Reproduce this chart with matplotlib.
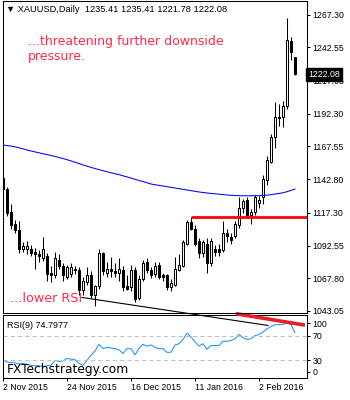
# -*- coding: utf-8 -*-
'''
XAUUSD daily chart with RSI(9) panel
'''
import numpy as np
from matplotlib import pyplot as plt

#%%
'''
                                [Data]
'''
dates_lbl = ['2 Nov 2015', '24 Nov 2015', '16 Dec 2015', '11 Jan 2016', '2 Feb 2016']
dates_pos = [0, 16, 32, 48, 64]

opens = [1144, 1135, 1118, 1109, 1104, 1090, 1090, 1090, 1088, 1086,
         1083, 1085, 1072, 1070, 1082, 1077, 1069, 1071, 1075, 1074,
         1059, 1065, 1070, 1055, 1062, 1087, 1072, 1075, 1073, 1072,
         1074, 1062, 1061, 1074, 1053, 1067, 1080, 1074, 1071, 1078,
         1070, 1070, 1061, 1063, 1074, 1077, 1094, 1110, 1105, 1096,
         1087, 1094, 1079, 1090, 1090, 1089, 1102, 1099, 1100, 1108,
         1121, 1127, 1116, 1118, 1125, 1129, 1142, 1156, 1175, 1190,
         1190, 1198, 1247, 1235.41]
highs = [1146, 1137, 1124, 1112, 1111, 1095, 1096, 1093, 1091, 1089,
         1099, 1087, 1077, 1088, 1086, 1079, 1078, 1079, 1077, 1076,
         1069, 1076, 1073, 1063, 1090, 1088, 1080, 1084, 1079, 1083,
         1077, 1070, 1078, 1076, 1070, 1082, 1083, 1076, 1080, 1080,
         1072, 1071, 1067, 1084, 1086, 1097, 1112, 1114.4, 1108, 1098,
         1097, 1098, 1098, 1093, 1094, 1111, 1105, 1102, 1111, 1129,
         1128, 1129, 1120, 1131, 1130, 1146, 1160, 1177, 1201, 1200,
         1202, 1265, 1250, 1235.41]
lows = [1133, 1115, 1105, 1102, 1087, 1088, 1086, 1085, 1075, 1080,
        1081, 1066, 1065, 1068, 1075, 1066, 1067, 1069, 1071, 1055,
        1055, 1063, 1053, 1047, 1060, 1070, 1069, 1069, 1069, 1066,
        1058, 1059, 1058, 1050, 1051, 1066, 1072, 1068, 1069, 1067,
        1066, 1059, 1058, 1062, 1073, 1076, 1093, 1104, 1092, 1083,
        1084, 1072, 1077, 1085, 1085, 1088, 1095, 1094, 1098, 1106,
        1117, 1114, 1109, 1116, 1121, 1124, 1138, 1155, 1166, 1183,
        1182, 1196, 1233, 1221.78]
closes = [1135, 1117, 1108, 1104, 1090, 1092, 1092, 1087, 1086, 1085,
          1090, 1071, 1070, 1083, 1077, 1070, 1076, 1076, 1074, 1059,
          1066, 1070, 1055, 1062, 1087, 1073, 1075, 1073, 1072, 1075,
          1061, 1060, 1074, 1052, 1067, 1079, 1074, 1070, 1077, 1069,
          1069, 1061, 1064, 1075, 1078, 1095, 1110, 1105, 1094, 1087,
          1095, 1079, 1096, 1088, 1088, 1102, 1100, 1097, 1109, 1121,
          1126, 1116, 1118, 1129, 1127, 1143, 1157, 1175, 1190, 1189,
          1198, 1248, 1239, 1222.08]

ma_vals = [1168.6, 1168.2, 1167.8, 1167.2, 1166.5, 1165.7, 1164.8, 1164.1, 1163.4, 1162.7,
           1162.0, 1161.4, 1160.7, 1160.0, 1159.2, 1158.4, 1157.5, 1156.6, 1155.6, 1154.6,
           1153.5, 1152.6, 1151.7, 1150.8, 1150.0, 1149.2, 1148.4, 1147.6, 1146.9, 1146.2,
           1145.3, 1144.5, 1143.6, 1142.7, 1141.8, 1141.0, 1140.1, 1139.1, 1138.6, 1138.1,
           1137.6, 1137.1, 1136.6, 1136.1, 1135.6, 1135.1, 1134.6, 1134.1, 1133.6, 1133.1,
           1132.7, 1132.3, 1132.0, 1131.7, 1131.4, 1131.1, 1130.8, 1130.6, 1130.4, 1130.3,
           1130.2, 1130.2, 1130.2, 1130.3, 1130.3, 1130.4, 1130.7, 1131.1, 1131.5, 1132.0,
           1132.5, 1133.3, 1134.3, 1135.3]

rsi_vals = [31, 27, 26, 26, 24, 25, 23, 22, 21, 21,
            20, 21, 22, 30, 28, 29, 33, 32, 31, 25,
            22, 30, 38, 45, 56, 49, 51, 50, 49, 47,
            41, 49, 49, 39, 49, 56, 53, 55, 51, 49,
            49, 43, 43, 55, 57, 64, 74, 68, 60, 53,
            57, 48, 54, 54, 54, 61, 61, 62, 65, 72,
            67, 64, 65, 70, 72, 76, 81, 85, 88, 88,
            88, 92, 88, 74.7977]

price_ticks = [1267.30, 1242.55, 1217.05, 1192.30, 1167.55, 1142.80, 1117.30, 1092.55, 1067.80, 1043.05]
rsi_tick_pos = [90, 70, 30, 11.5]
rsi_tick_lbl = ['100', '70', '30', '0']

resist_level = 1114.4
resist_start = 47
# trend lines (x = bar index)
price_trend_x = [19.75, 66.25]
price_trend_y = [1053.3, 1032.1]
rsi_trend_x = [58.25, 75.5]
rsi_trend_y = [105.8, 87.2]

#%%
'''
                                [Plot]
'''
W, H = 350, 400
fig = plt.figure(figsize=(W / 100, H / 100), dpi=100)
fig.patch.set_facecolor('white')

ax = fig.add_axes([2.5 / W, (H - 313.3) / H, (307 - 2.5) / W, (313.3 - 1) / H])
rsi = fig.add_axes([2.5 / W, (H - 377.7) / H, (307 - 2.5) / W, (377.7 - 315.3) / H])
for a in (ax, rsi):
    a.set_facecolor('none')
    for s in a.spines.values():
        s.set_linewidth(0.75)
    a.set_xlim(-0.125, 76)
ax.set_zorder(2)
rsi.set_zorder(1)

idx = np.arange(len(opens))
o = np.array(opens); c = np.array(closes)
hi = np.array(highs); lo = np.array(lows)
up = c >= o

# candles
ax.vlines(idx, lo, hi, color='black', lw=0.75, zorder=2)
bot = np.minimum(o, c)
hgt = np.maximum(np.abs(c - o), 0.3)
ax.bar(idx[up], hgt[up], bottom=bot[up], width=0.7, color='white',
       edgecolor='black', lw=0.75, zorder=3)
ax.bar(idx[~up], hgt[~up], bottom=bot[~up], width=0.7, color='black',
       edgecolor='black', lw=0.75, zorder=3)

ax.plot(idx, ma_vals, color='#0000FF', lw=0.75, zorder=4)
ax.hlines(resist_level, resist_start, 76, color='#FF0000', lw=2, zorder=5)
ax.plot(price_trend_x, price_trend_y, color='black', lw=0.8, clip_on=False, zorder=6)

ax.set_ylim(1041.31, 1277.55)
ax.set_xticks([])
ax.yaxis.tick_right()
ax.set_yticks(price_ticks)
ax.set_yticklabels(['%.2f' % p for p in price_ticks])
ax.tick_params(axis='y', direction='out', length=2.5, width=0.75, pad=1.5,
               labelsize=6.3, labelfontfamily='Liberation Sans')

# current price box
ax.text(1.005, closes[-1], '%.2f' % closes[-1], transform=ax.get_yaxis_transform(),
        color='white', fontsize=6.3, family='Liberation Sans', va='center', ha='left',
        bbox=dict(boxstyle='square,pad=0.25', fc='black', ec='black'), zorder=10, clip_on=False)

# RSI panel
rsi.plot(idx, rsi_vals, color='#1E90FF', lw=0.75)
for lvl in (70, 30):
    rsi.axhline(lvl, color='#C0C0C0', lw=0.75, ls=(0, (4, 3)))
rsi.plot(rsi_trend_x, rsi_trend_y, color='#EE1C25', lw=2.6, clip_on=False,
         solid_capstyle='butt', zorder=5)
rsi.set_ylim(1.7, 103.2)
rsi.yaxis.tick_right()
rsi.set_yticks(rsi_tick_pos)
rsi.set_yticklabels(rsi_tick_lbl)
rsi.set_xticks(dates_pos)
rsi.set_xticklabels(dates_lbl, ha='left')
rsi.tick_params(direction='out', length=2.5, width=0.75, pad=1.5,
                labelsize=6.3, labelfontfamily='Liberation Sans')

# texts
fig.text(6 / W, 1 - 10 / H, u'\u25bc XAUUSD,Daily  1235.41 1235.41 1221.78 1222.08',
         fontsize=6.7, family=['Liberation Sans', 'DejaVu Sans'], va='center')
fig.text(28 / W, 1 - 49 / H, '...threatening further downside\npressure.',
         fontsize=9, color='#FF2A4A', va='center', linespacing=1.2)
fig.text(10 / W, 1 - 299 / H, '...lower RSI', fontsize=9.2, color='#FF2A4A', va='center')
fig.text(7 / W, 1 - 325 / H, 'RSI(9) 74.7977', fontsize=6.5, family='Liberation Sans', va='center')
fig.text(7 / W, 1 - 369 / H, 'FXTechstrategy.com', fontsize=8.8, color='black', va='center')

plt.savefig('out.png', dpi=100)
